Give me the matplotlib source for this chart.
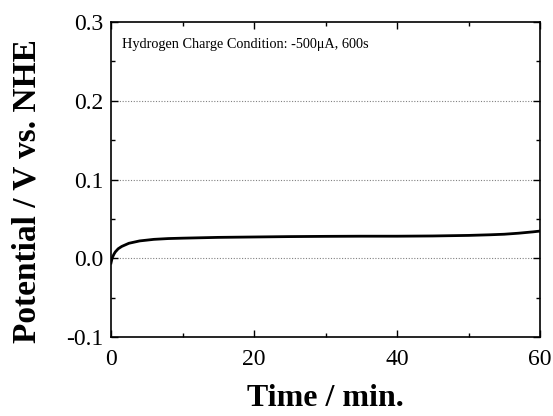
import matplotlib.pyplot as plt
from matplotlib.ticker import MultipleLocator

plt.rcParams['font.family'] = ['Liberation Serif', 'DejaVu Serif']

# potential vs time
time_min = [0.0, 0.1, 0.2, 0.4, 0.6, 0.8, 1.0, 1.5, 2.0, 2.5, 3.0, 4.0, 5.0, 6.0, 8.0,
            10.0, 15.0, 20.0, 25.0, 30.0, 35.0, 40.0, 45.0, 50.0, 53.0, 55.0, 57.0, 59.0, 60.0]
potential_v = [-0.006, -0.002, 0.001, 0.005, 0.008, 0.010, 0.012, 0.015, 0.017, 0.019, 0.020,
               0.022, 0.023, 0.024, 0.025, 0.0255, 0.0265, 0.027, 0.0275, 0.0278, 0.028,
               0.028, 0.0283, 0.029, 0.0298, 0.0305, 0.0318, 0.0335, 0.0345]

fig = plt.figure(figsize=(5.53, 4.16), dpi=100)
ax = fig.add_axes([111/553, 1-337/416, (540-111)/553, (337-22)/416])

ax.plot(time_min, potential_v, color='black', lw=2.0)

ax.set_xlim(0, 60)
ax.set_ylim(-0.1, 0.3)
ax.xaxis.set_major_locator(MultipleLocator(20))
ax.xaxis.set_minor_locator(MultipleLocator(10))
ax.yaxis.set_minor_locator(MultipleLocator(0.05))
ax.set_yticks([-0.1, 0.0, 0.1, 0.2, 0.3])
ax.set_yticklabels(['-0.1', '0.0', '0.1', '0.2', '0.3'])

ax.tick_params(which='both', direction='in', top=True, right=True, labelsize=17)
ax.tick_params(axis='y', pad=5.5)
ax.tick_params(axis='x', pad=8.5)
ax.tick_params(which='major', length=5, width=1)
ax.tick_params(which='minor', length=3, width=1)
for s in ax.spines.values():
    s.set_linewidth(1.2)

for yv in [0.0, 0.1, 0.2]:
    ax.axhline(yv, color='gray', lw=0.8, ls=(0, (1, 1.5)), zorder=0)

ax.text(0.025, 0.93, 'Hydrogen Charge Condition: -500\u03bcA, 600s', transform=ax.transAxes,
        fontsize=10.3, va='center')

ax.set_xlabel('Time / min.', fontsize=23, fontweight='bold', labelpad=10)
ax.set_ylabel('Potential / V vs. NHE', fontsize=24, fontweight='bold', labelpad=17)
ax.yaxis.label.set_y(0.463)

fig.savefig('out.png', dpi=100)
